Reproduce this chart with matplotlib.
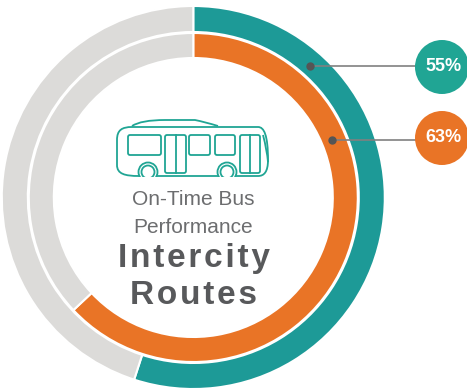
#!/usr/bin/env python3

import matplotlib
matplotlib.use('Agg')
import matplotlib.pyplot as plt
import matplotlib.patches as patches
from matplotlib.path import Path

# share of on-time buses, outer ring then inner ring
labels = ["55%", "63%"]
on_time = [55, 63]

TEAL = "#1d9a97"
TEAL_BADGE = "#20a594"
ORANGE = "#e97426"
GREY = "#dcdbd9"
TEXT = "#58595b"
TEXT_LIGHT = "#6c6d6f"
LINE = "#808080"
DOT = "#555555"

fig = plt.figure(figsize=(4.67, 3.89), dpi=100)
ax = fig.add_axes([0, 0, 1, 1])

center = (193.3, 197.5)
rings = [(191.5, 26, TEAL), (164.5, 25, ORANGE)]

for value, (radius, width, color) in zip(on_time, rings):
    ax.pie([value, 100 - value], colors=[color, GREY], startangle=90, counterclock=False,
           center=center, radius=radius,
           wedgeprops=dict(width=width, edgecolor='white', linewidth=1.5))

ax.set_xlim(0, 467)
ax.set_ylim(389, 0)
ax.set_aspect('auto')
ax.axis('off')

# pie is drawn for a y-up axis, the flipped y would mirror it, so flip the wedges back
for w in ax.patches:
    w.set_transform(matplotlib.transforms.Affine2D().scale(1, -1).translate(0, 2 * center[1]) + ax.transData)

# leader lines and badges
badges = [(442, 67, 310, 66, TEAL_BADGE), (442, 138, 332, 140, ORANGE)]
for label, (bx, by, dx, dy, color) in zip(labels, badges):
    ax.plot([dx, bx], [dy, dy], color=LINE, lw=1.2, zorder=5)
    ax.plot([dx], [dy], 'o', color=DOT, ms=5, zorder=6)
    ax.add_patch(patches.Circle((bx, by), 27, facecolor=color, edgecolor='none', zorder=7))
    ax.text(bx + 1, by - 1, label, ha='center', va='center', color='white', fontsize=13,
            family='Liberation Sans', weight='bold', zorder=8)

# bus icon
bus = dict(fill=False, edgecolor=TEAL_BADGE, linewidth=1.3, zorder=5)
body = Path(
    [(139, 176), (125, 176), (117, 174), (117, 165), (117, 140), (117, 130), (122, 127), (132, 127),
     (258, 127), (264, 127), (268, 135), (268, 160), (268, 172), (264, 176), (258, 176), (139, 176)],
    [Path.MOVETO, Path.CURVE4, Path.CURVE4, Path.CURVE4, Path.LINETO, Path.CURVE4, Path.CURVE4, Path.CURVE4,
     Path.LINETO, Path.CURVE4, Path.CURVE4, Path.CURVE4, Path.CURVE4, Path.CURVE4, Path.CURVE4, Path.LINETO])
ax.add_patch(patches.PathPatch(body, **bus))
roof = Path([(132, 126), (141, 120), (165, 120), (195, 120), (205, 122), (218, 126)],
            [Path.MOVETO, Path.CURVE3, Path.CURVE3, Path.LINETO, Path.CURVE3, Path.CURVE3])
ax.add_patch(patches.PathPatch(roof, **bus))
windshield = Path([(263, 135), (267, 150), (268, 162)], [Path.MOVETO, Path.CURVE3, Path.CURVE3])
ax.add_patch(patches.PathPatch(windshield, **bus))

for x, y, w, h in [(128, 135, 33, 20), (189, 135, 21, 20), (215, 135, 20, 20),
                   (165, 135, 21, 38), (240, 135, 20, 38)]:
    ax.add_patch(patches.FancyBboxPatch((x, y), w, h, boxstyle="round,pad=0,rounding_size=2", **bus))
ax.plot([176, 176], [135, 173], color=TEAL_BADGE, lw=1.3, zorder=5)
ax.plot([250, 250], [135, 173], color=TEAL_BADGE, lw=1.3, zorder=5)

for cx in [148, 227]:
    ax.add_patch(patches.Circle((cx, 172), 9.5, facecolor='white', edgecolor=TEAL_BADGE, linewidth=1.3, zorder=6))
    ax.add_patch(patches.Circle((cx, 172), 6.5, facecolor='white', edgecolor=TEAL_BADGE, linewidth=1.3, zorder=6))
ax.add_patch(patches.Rectangle((136, 177), 102, 8, facecolor='white', edgecolor='none', zorder=7))

# centre text
ax.text(193, 199, "On-Time Bus", ha='center', va='center', color=TEXT_LIGHT, fontsize=15,
        family='Liberation Sans')
ax.text(193, 227, "Performance", ha='center', va='center', color=TEXT_LIGHT, fontsize=15,
        family='Liberation Sans')
hair = "\u200a"
ax.text(194.5, 259, hair.join("Intercity"), ha='center', va='center', color=TEXT, fontsize=24,
        family=['Liberation Sans', 'DejaVu Sans'], weight='bold')
ax.text(194, 296, hair.join("Routes"), ha='center', va='center', color=TEXT, fontsize=24,
        family=['Liberation Sans', 'DejaVu Sans'], weight='bold')

fig.savefig("out.png", dpi=100)
